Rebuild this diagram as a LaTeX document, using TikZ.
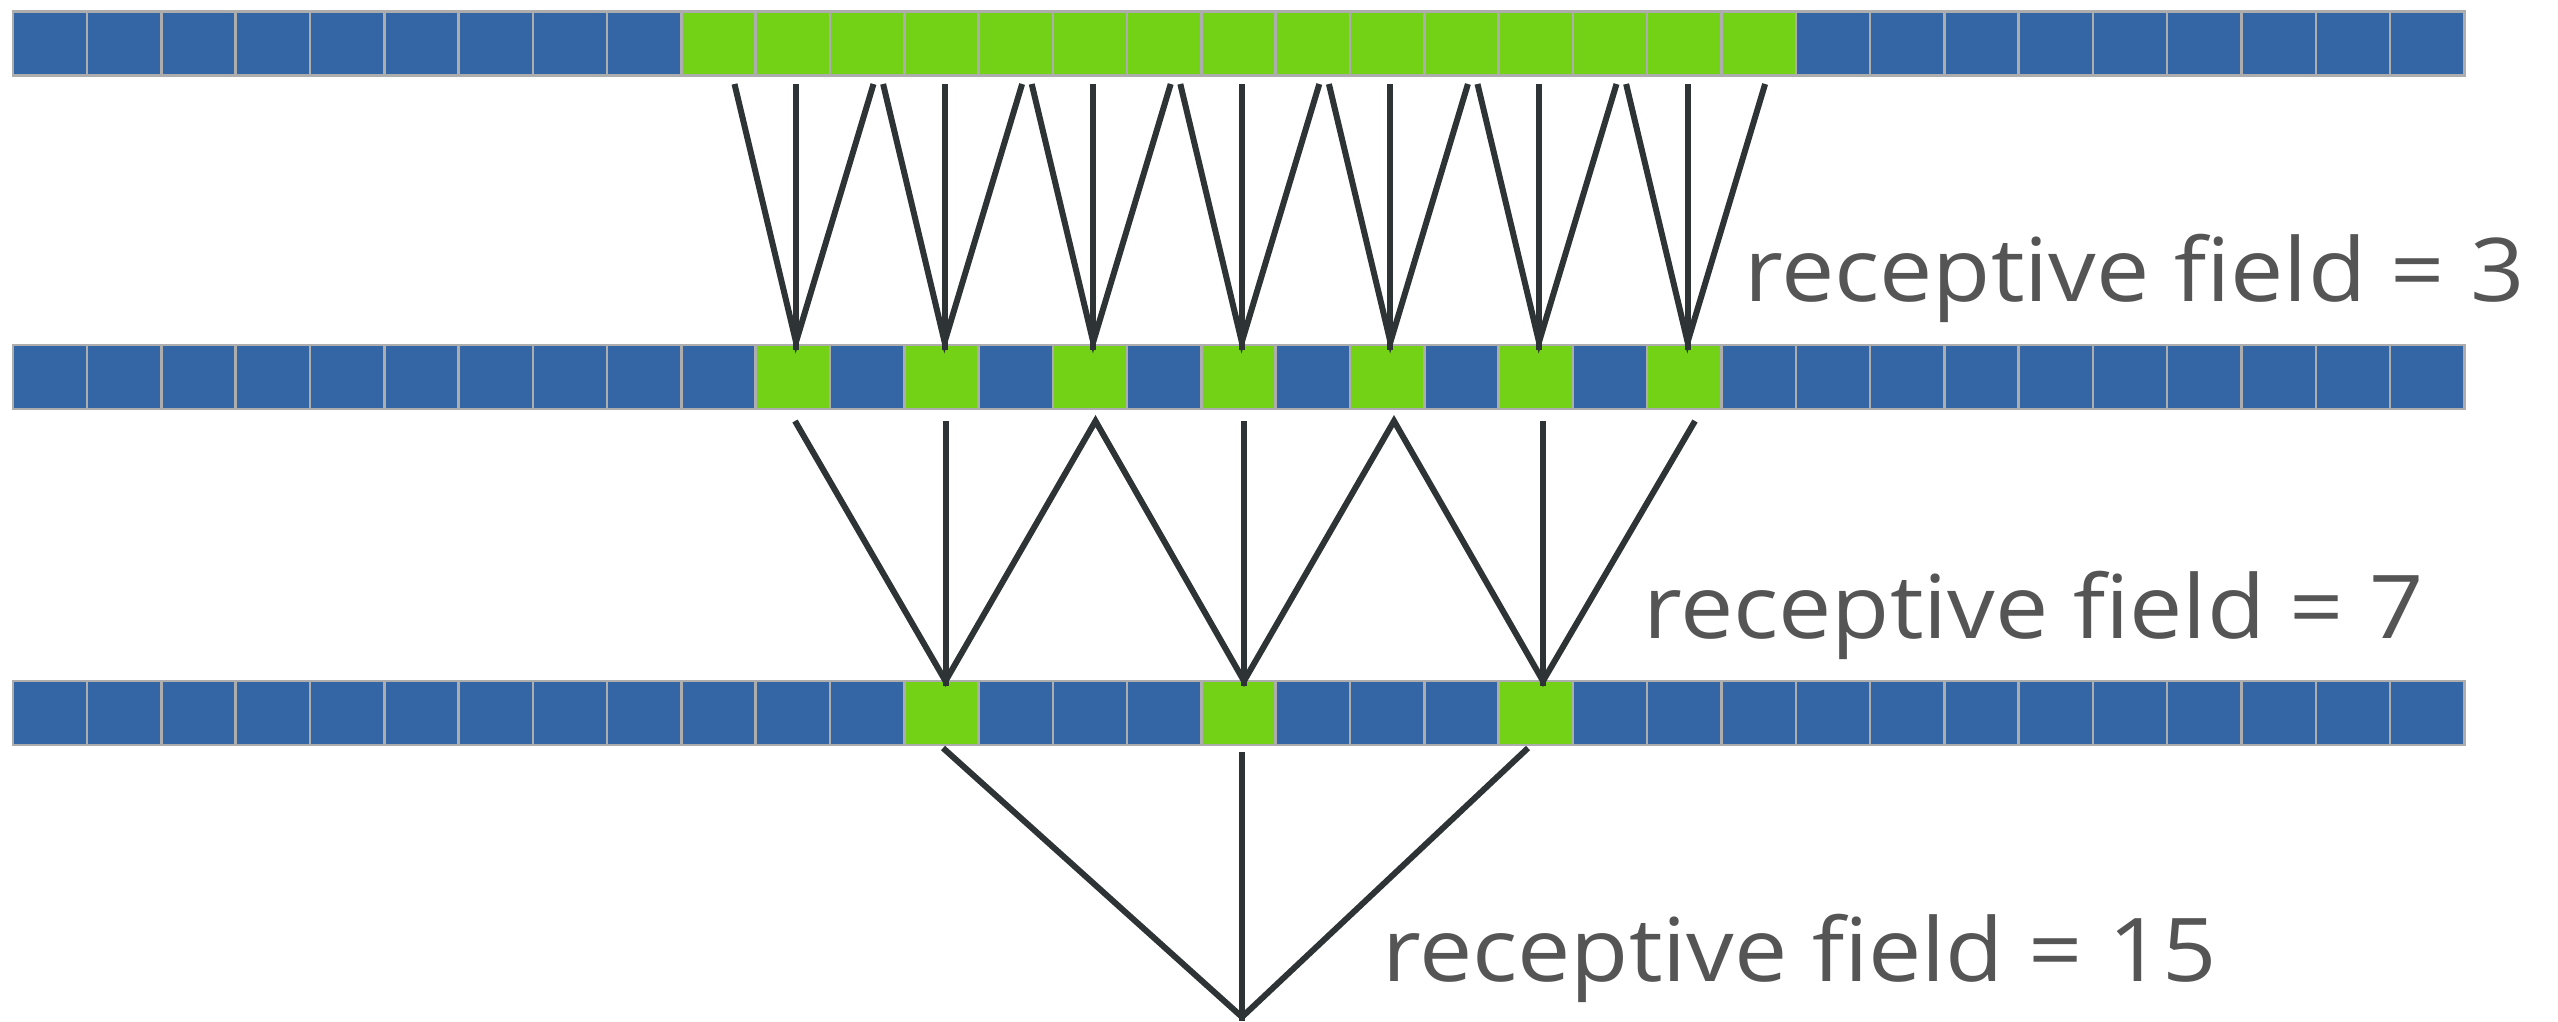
\documentclass[tikz,border=0pt]{standalone}
\usepackage{fontspec}
\setmainfont{Open Sans}
\definecolor{cellblue}{HTML}{3465A4}
\definecolor{cellgreen}{HTML}{73D216}
\definecolor{cellgray}{HTML}{ADADAD}
\definecolor{wirecol}{HTML}{2E3436}
\definecolor{labelgray}{HTML}{555555}
\newcommand{\widelbl}[1]{\scalebox{1.08}[1]{#1}}
\tikzset{
  cellbox/.style={draw=cellgray, line width=2.5pt, minimum width=74.29pt, minimum height=64pt, inner sep=0pt, outer sep=0pt},
  wire/.style={draw=wirecol, line width=6pt, line join=miter},
  lbl/.style={text=labelgray, anchor=base west, inner sep=0pt, font=\fontsize{88}{100}\selectfont}
}
\begin{document}
\begin{tikzpicture}[x=1pt,y=-1pt]
\useasboundingbox (0,0) rectangle (2558,1021);
% row 1
\foreach \k in {0,...,32}{
  \pgfmathtruncatemacro\g{(\k>=9)&&(\k<=23)}
  \ifnum\g=1\def\fc{cellgreen}\else\def\fc{cellblue}\fi
  \node[cellbox, fill=\fc] (ra\k) at ({12.8+74.29*(\k+0.5)}, 43.5) {};
}
% row 2
\foreach \k in {0,...,32}{
  \pgfmathtruncatemacro\g{(\k>=10)&&(\k<=22)&&(mod(\k,2)==0)}
  \ifnum\g=1\def\fc{cellgreen}\else\def\fc{cellblue}\fi
  \node[cellbox, fill=\fc] (rb\k) at ({12.8+74.29*(\k+0.5)}, 377.2) {};
}
% row 3
\foreach \k in {0,...,32}{
  \pgfmathtruncatemacro\g{(\k>=12)&&(\k<=20)&&(mod(\k-12,4)==0)}
  \ifnum\g=1\def\fc{cellgreen}\else\def\fc{cellblue}\fi
  \node[cellbox, fill=\fc] (rc\k) at ({12.8+74.29*(\k+0.5)}, 713) {};
}
% fan 1: row 1 -> row 2
\foreach \j in {0,...,6}{
  \pgfmathsetmacro\X{796+148.6*\j}
  \coordinate (fav\j) at (\X, 342);
  \coordinate (fab\j) at (\X, 350);
  \coordinate (fal\j) at (\X-61.5, 84);
  \coordinate (fam\j) at (\X, 84);
  \coordinate (far\j) at (\X+77.5, 84);
  \draw[wire] (fal\j) -- (fav\j) -- (far\j);
  \draw[wire] (fam\j) -- (fab\j);
}
% fan 2: row 2 -> row 3
\foreach \j/\X in {0/795, 1/945.5, 2/1095.5, 3/1244, 4/1394, 5/1543, 6/1695}{
  \coordinate (fbu\j) at (\X, 421);
  \coordinate (fbv\j) at (\X, 681);
  \coordinate (fbb\j) at (\X, 686);
}
\draw[wire] (fbu0) -- (fbv1) -- (fbu2) -- (fbv3) -- (fbu4) -- (fbv5) -- (fbu6);
\foreach \j in {1,3,5}{
  \draw[wire] (fbu\j) -- (fbb\j);
}
% fan 3: row 3 -> output
\coordinate (fcl) at (943, 748);
\coordinate (fcm) at (1242, 752);
\coordinate (fcr) at (1528, 748);
\coordinate (fcv) at (1242, 1017);
\coordinate (fcb) at (1242, 1021);
\draw[wire] (fcl) -- (fcv) -- (fcr);
\draw[wire] (fcm) -- (fcb);
% labels
\node[lbl] (lab1) at (1744, 301.7) {\widelbl{receptive field = 3}};
\node[lbl] (lab2) at (1643, 638) {\widelbl{receptive field = 7}};
\node[lbl] (lab3) at (1382, 981.7) {\widelbl{receptive field = 15}};
\end{tikzpicture}
\end{document}
